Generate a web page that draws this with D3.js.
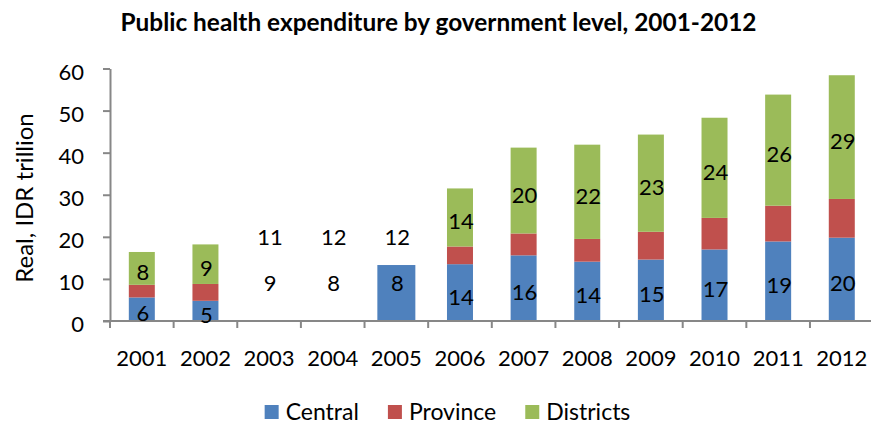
<!DOCTYPE html>
<html>
<head>
<meta charset="utf-8">
<script src="https://cdn.jsdelivr.net/npm/d3@7/dist/d3.min.js"></script>
<style>
  html, body { margin: 0; padding: 0; background: #fff; }
  svg { display: block; font-family: Lato, "Open Sans", sans-serif; }
</style>
</head>
<body>
<svg id="chart" width="871" height="424"></svg>
<script>
// Public health expenditure (real, IDR trillion) by government level
const years = ["2001","2002","2003","2004","2005","2006","2007","2008","2009","2010","2011","2012"];
const central   = [5.6, 4.8, 0, 0, 13.3, 13.5, 15.6, 14.1, 14.6, 17.0, 18.9, 19.8];
const province  = [3.0, 4.0, 0, 0, 0,    4.2,  5.2,  5.4,  6.6,  7.5,  8.5,  9.2];
const districts = [7.8, 9.4, 0, 0, 0,    13.8, 20.4, 22.4, 23.1, 23.8, 26.4, 29.4];

// Printed data labels (Central and Districts series)
const centralLabels   = ["6","5","9","8","8","14","16","14","15","17","19","20"];
const districtsLabels = ["8","9","11","12","12","14","20","22","23","24","26","29"];
// Years whose labels are not tied to a drawn segment
const looseLabelYears = ["2003","2004","2005"];

const yTicks = [0, 10, 20, 30, 40, 50, 60];
const seriesNames = ["Central", "Province", "Districts"];
const colors = { Central: "#4F81BD", Province: "#C0504D", Districts: "#9BBB59" };

const svg = d3.select("#chart");
const axisColor = "#878787";
const fontSize = 22;

const x = d3.scaleBand().domain(years).range([110, 873.6]).paddingInner(0).paddingOuter(0);
const y = d3.scaleLinear().domain([0, 60]).range([321, 68.5]);

// stacked layout
const rows = years.map((yr, i) => ({ year: yr, Central: central[i], Province: province[i], Districts: districts[i] }));
const stack = d3.stack().keys(seriesNames)(rows);

const barWidth = 26;
const wideYear = "2005";
const wideWidth = 38;

const bars = svg.append("g");
stack.forEach(layer => {
  bars.selectAll(null)
    .data(layer.filter(d => d[1] - d[0] > 0))
    .enter().append("rect")
    .attr("x", d => {
      const w = d.data.year === wideYear ? wideWidth : barWidth;
      return x(d.data.year) + x.bandwidth() / 2 - w / 2;
    })
    .attr("width", d => d.data.year === wideYear ? wideWidth : barWidth)
    .attr("y", d => y(d[1]))
    .attr("height", d => y(d[0]) - y(d[1]))
    .attr("fill", colors[layer.key]);
});

// axes
const yAxis = svg.append("g")
  .attr("transform", `translate(${x.range()[0]},0)`)
  .call(d3.axisLeft(y).tickValues(yTicks).tickSize(7).tickSizeOuter(0).tickPadding(19));
yAxis.select(".domain").attr("stroke", axisColor).attr("stroke-width", 2);
yAxis.selectAll(".tick line").attr("stroke", axisColor).attr("stroke-width", 2);
yAxis.selectAll(".tick text")
  .attr("font-size", fontSize).attr("fill", "#000").attr("dy", "0.48em")
  .attr("font-family", "Lato, 'Open Sans', sans-serif");

// category axis: labels at band centres, ticks at band edges
const xAxis = svg.append("g")
  .attr("transform", `translate(0,${y(0)})`)
  .call(d3.axisBottom(x).tickSize(0).tickPadding(29));
xAxis.select(".domain").attr("stroke", axisColor).attr("stroke-width", 2)
  .attr("d", `M${x.range()[0] - 7},0H871`);
xAxis.selectAll(".tick text")
  .attr("font-size", fontSize).attr("fill", "#000")
  .attr("font-family", "Lato, 'Open Sans', sans-serif");
const edges = years.map(yr => x(yr)).concat([x.range()[1]]);
xAxis.selectAll("line.edge").data(edges).enter().append("line")
  .attr("class", "edge")
  .attr("x1", d => d).attr("x2", d => d)
  .attr("y1", 0).attr("y2", 7)
  .attr("stroke", axisColor).attr("stroke-width", 2);

// data labels
const labelG = svg.append("g")
  .attr("font-size", fontSize).attr("text-anchor", "middle").attr("fill", "#000");
const looseLevel = { Central: 9.1, Districts: 20.0 };
function labelY(layerKey, i) {
  const yr = years[i];
  if (looseLabelYears.includes(yr)) return y(looseLevel[layerKey]) + 8;
  const layer = stack.find(l => l.key === layerKey);
  const d = layer[i];
  return y((d[0] + d[1]) / 2) + 12;
}
[["Central", centralLabels], ["Districts", districtsLabels]].forEach(([key, labels]) => {
  labelG.selectAll(null)
    .data(labels)
    .enter().append("text")
    .attr("x", (d, i) => x(years[i]) + x.bandwidth() / 2 + 1)
    .attr("y", (d, i) => labelY(key, i))
    .text(d => d);
});

// title
svg.append("text")
  .attr("x", 438.5).attr("y", 31)
  .attr("text-anchor", "middle")
  .attr("font-weight", "bold")
  .attr("font-size", 24.4)
  .text("Public health expenditure by government level, 2001-2012");

// y-axis title
svg.append("text")
  .attr("transform", "translate(33,198) rotate(-90)")
  .attr("text-anchor", "middle")
  .attr("font-size", 24)
  .text("Real, IDR trillion");

// legend
const legend = svg.append("g");
let cursor = 0;
seriesNames.forEach((name, i) => {
  const item = legend.append("g").attr("transform", `translate(${cursor},0)`);
  item.append("rect").attr("x", 0).attr("y", 405).attr("width", 14).attr("height", 14)
    .attr("fill", colors[name]);
  const t = item.append("text").attr("x", 21).attr("y", 420)
    .attr("font-size", 23).text(name);
  cursor += 21 + t.node().getComputedTextLength() + 29;
});
const legendWidth = cursor - 29;
legend.attr("transform", `translate(${447.5 - legendWidth / 2},0)`);
</script>
</body>
</html>
